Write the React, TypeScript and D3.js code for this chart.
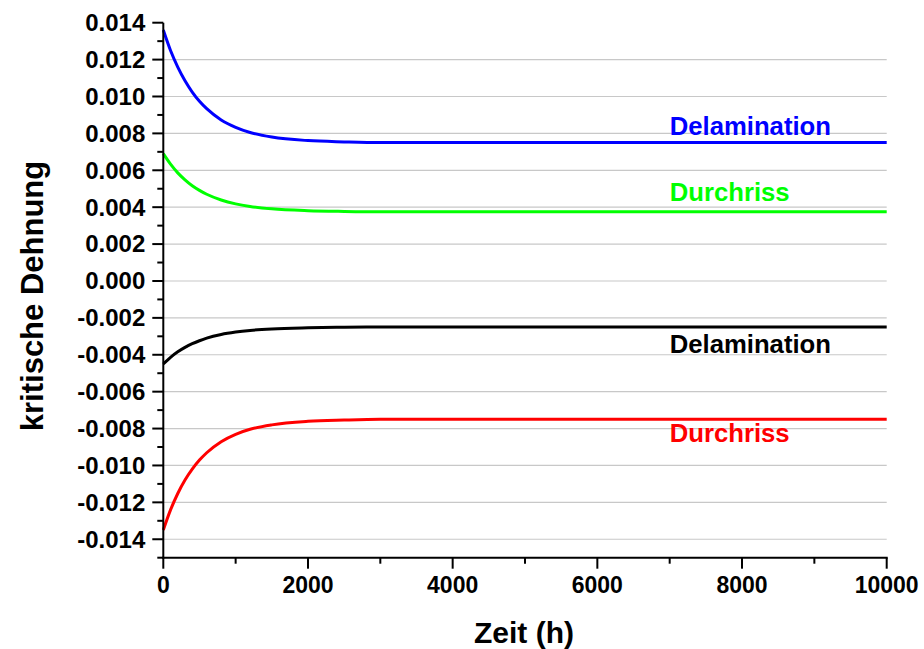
import React from "react";
import * as d3 from "d3";

const zeit = [0, 100, 200, 300, 400, 500, 600, 800, 1000, 1200, 1500, 2000, 2500, 3000, 4000, 6000, 8000, 10000];

const delaminationZug = [0.0136, 0.01249, 0.01159, 0.01085, 0.01024, 0.00974, 0.00934, 0.00873, 0.00833, 0.00805, 0.0078, 0.00761, 0.00754, 0.0075, 0.0075, 0.0075, 0.0075, 0.0075];
const durchrissZug = [0.0069, 0.00633, 0.00586, 0.00548, 0.00516, 0.00491, 0.0047, 0.00439, 0.00418, 0.00404, 0.00391, 0.00381, 0.00377, 0.00375, 0.00375, 0.00375, 0.00375, 0.00375];
const delaminationDruck = [-0.0045, -0.00414, -0.00384, -0.0036, -0.0034, -0.00324, -0.0031, -0.0029, -0.00277, -0.00268, -0.0026, -0.00254, -0.00251, -0.0025, -0.0025, -0.0025, -0.0025, -0.0025];
const durchrissDruck = [-0.0135, -0.01241, -0.01152, -0.01079, -0.0102, -0.00971, -0.00931, -0.00871, -0.00831, -0.00804, -0.0078, -0.00761, -0.00754, -0.0075, -0.0075, -0.0075, -0.0075, -0.0075];

const xTicks = [0, 2000, 4000, 6000, 8000, 10000];
const xMinor = [1000, 3000, 5000, 7000, 9000];
const yTicks = [-0.014, -0.012, -0.01, -0.008, -0.006, -0.004, -0.002, 0, 0.002, 0.004, 0.006, 0.008, 0.01, 0.012, 0.014];
const yMinor = [-0.015, -0.013, -0.011, -0.009, -0.007, -0.005, -0.003, -0.001, 0.001, 0.003, 0.005, 0.007, 0.009, 0.011, 0.013];

const series = [
  { name: "Delamination", values: delaminationZug, color: "#0000ff", dy: -8 },
  { name: "Durchriss", values: durchrissZug, color: "#00ff00", dy: -11 },
  { name: "Delamination", values: delaminationDruck, color: "#000000", dy: 26 },
  { name: "Durchriss", values: durchrissDruck, color: "#ff0000", dy: 23 },
];
const labelX = 7000;

const font = "'Liberation Sans', Arial, sans-serif";

export default function App() {
  const width = 924;
  const height = 649;
  const left = 163.3, right = 886.7, top = 22.7, bottom = 557.7;

  const x = d3.scaleLinear().domain([0, 10000]).range([left, right]);
  const y = d3.scaleLinear().domain([-0.015, 0.014]).range([bottom, top]);

  const line = d3
    .line<number>()
    .x((_, i) => x(zeit[i]))
    .y((d) => y(d))
    .curve(d3.curveMonotoneX);

  const fmt = (v: number) => d3.format(".3f")(v).replace("\u2212", "-");

  return (
    <div style={{ position: "absolute", left: 0, top: 0 }}>
      <svg width={width} height={height} style={{ display: "block", background: "#fff" }}>
        {/* Gitterlinien */}
        {yTicks.filter((t) => t < 0.0139).map((t) => (
          <line key={"g" + t} x1={left} x2={right} y1={y(t)} y2={y(t)} stroke="#c8c8c8" strokeWidth={1.2} />
        ))}

        {series.map((s, i) => (
          <path key={"p" + i} d={line(s.values) || ""} fill="none" stroke={s.color} strokeWidth={3} />
        ))}

        {series.map((s, i) => (
          <text
            key={"l" + i}
            x={x(labelX)}
            y={y(s.values[s.values.length - 1]) + s.dy}
            fill={s.color}
            fontFamily={font}
            fontWeight="bold"
            fontSize={25.7}
          >
            {s.name}
          </text>
        ))}

        {/* Achsen */}
        <line x1={left} x2={left} y1={top} y2={bottom + 1} stroke="#000" strokeWidth={2} />
        <line x1={left - 1} x2={right + 1} y1={bottom} y2={bottom} stroke="#000" strokeWidth={2} />

        {yTicks.map((t) => (
          <g key={"yt" + t}>
            <line x1={left - 11} x2={left} y1={y(t)} y2={y(t)} stroke="#000" strokeWidth={2} />
            <text
              x={left - 18}
              y={y(t)}
              dy="0.35em"
              textAnchor="end"
              fontFamily={font}
              fontWeight="bold"
              fontSize={24}
            >
              {fmt(t)}
            </text>
          </g>
        ))}
        {yMinor.map((t) => (
          <line key={"ym" + t} x1={left - 6} x2={left} y1={y(t)} y2={y(t)} stroke="#000" strokeWidth={2} />
        ))}

        {xTicks.map((t) => (
          <g key={"xt" + t}>
            <line x1={x(t)} x2={x(t)} y1={bottom} y2={bottom + 11} stroke="#000" strokeWidth={2} />
            <text x={x(t)} y={593} textAnchor="middle" fontFamily={font} fontWeight="bold" fontSize={23}>
              {t}
            </text>
          </g>
        ))}
        {xMinor.map((t) => (
          <line key={"xm" + t} x1={x(t)} x2={x(t)} y1={bottom} y2={bottom + 6} stroke="#000" strokeWidth={2} />
        ))}

        <text x={524} y={643} textAnchor="middle" fontFamily={font} fontWeight="bold" fontSize={30}>
          Zeit (h)
        </text>
        <text
          transform={`translate(43, 296) rotate(-90)`}
          textAnchor="middle"
          fontFamily={font}
          fontWeight="bold"
          fontSize={31}
        >
          kritische Dehnung
        </text>
      </svg>
    </div>
  );
}
